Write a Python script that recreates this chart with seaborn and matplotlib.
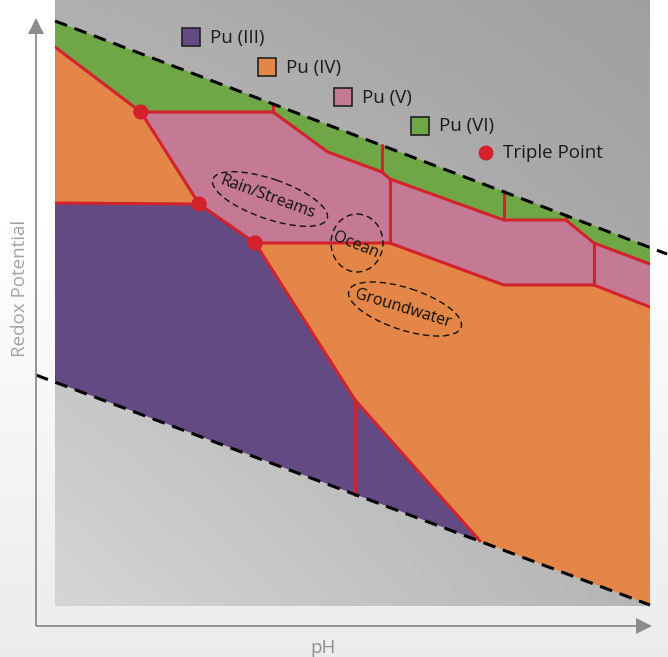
import numpy as np
import pandas as pd
import matplotlib
matplotlib.use("Agg")
import matplotlib.pyplot as plt
import seaborn as sns
from matplotlib.patches import Ellipse, Rectangle, Polygon, Circle

sns.set_theme(style="white")
plt.rcParams['font.family'] = ['Open Sans', 'DejaVu Sans']

# ---------------- data (pH, redox potential in arbitrary units) ----------------
water_upper_ph = [0.0, 14.4]
water_upper_e = [5.85, 3.52]
water_lower_ph = [-0.45, 14.0]
water_lower_e = [2.31, 0.01]

pu6_ph = [0.0, 14.0, 14.0, 12.68, 12.02, 10.56, 7.88, 7.69, 6.42, 5.13, 2.02, 0.0]
pu6_e = [5.85, 3.59, 3.42, 3.63, 3.86, 3.86, 4.27, 4.34, 4.54, 4.94, 4.94, 5.59]
pu4a_ph = [0.0, 2.02, 3.39, 0.0]
pu4a_e = [5.59, 4.94, 4.02, 4.03]
pu5_ph = [2.02, 5.13, 6.42, 7.69, 7.88, 10.56, 12.02, 12.68, 14.0, 14.0, 12.68, 10.56, 7.88, 4.71, 3.39]
pu5_e = [4.94, 4.94, 4.54, 4.34, 4.27, 3.86, 3.86, 3.63, 3.42, 2.99, 3.21, 3.21, 3.63, 3.63, 4.02]
pu3_ph = [0.0, 3.39, 4.71, 7.06, 10.0, 0.0]
pu3_e = [4.03, 4.02, 3.63, 2.06, 0.65, 2.24]
pu4b_ph = [4.71, 7.88, 10.56, 12.68, 14.0, 14.0, 10.0, 7.06]
pu4b_e = [3.63, 3.63, 3.21, 3.21, 2.99, 0.01, 0.65, 2.06]

boundary_ph = [
    [0.0, 2.02, 3.39, 4.71, 7.06, 10.0],
    [0.0, 3.39],
    [2.02, 5.13, 6.42, 7.69, 7.88, 10.56, 12.02, 12.68, 14.0],
    [4.71, 7.88, 10.56, 12.68, 14.0],
    [5.13, 5.13], [7.69, 7.69], [7.88, 7.88], [10.56, 10.56],
    [12.02, 12.02], [12.68, 12.68], [7.06, 7.06],
]
boundary_e = [
    [5.59, 4.94, 4.02, 3.63, 2.06, 0.65],
    [4.03, 4.02],
    [4.94, 4.94, 4.54, 4.34, 4.27, 3.86, 3.86, 3.63, 3.42],
    [3.63, 3.63, 3.21, 3.21, 2.99],
    [4.94, 5.02], [4.34, 4.61], [4.27, 3.63], [3.86, 4.15],
    [3.86, 3.91], [3.63, 3.21], [2.06, 1.115],
]

triple_ph = [2.02, 3.39, 4.71]
triple_e = [4.94, 4.02, 3.63]

legend_labels = ["Pu (III)", "Pu (IV)", "Pu (V)", "Pu (VI)"]
legend_colors = ["#634a82", "#e38647", "#c47994", "#70a746"]
triple_label = "Triple Point"
env_labels = ["Rain/Streams", "Ocean", "Groundwater"]
x_label = "pH"
y_label = "Redox Potential"

RED = "#d2232d"
C3, C4, C5, C6 = legend_colors

# ---------------- figure ----------------
fig = plt.figure(figsize=(6.68, 6.57), dpi=100)

# page background gradient
bg = fig.add_axes([0, 0, 1, 1])
r = np.linspace(0, 1, 300)[:, None]
v = 1 - 0.075 * np.clip((r - 0.35) / 0.65, 0, 1)
grad = np.dstack([v, v, v + 0.004]).clip(0, 1)
grad = np.repeat(grad, 2, axis=1)
bg.imshow(grad, extent=(0, 1, 0, 1), aspect='auto', interpolation='bilinear')
bg.set_xlim(0, 1); bg.set_ylim(0, 1)
bg.axis('off')

# main plotting area
ax = fig.add_axes([55 / 668, 51 / 657, 595 / 668, 606 / 657])
n = 200
gx = np.linspace(0, 1, n)[None, :]
gy = np.linspace(0, 1, n)[:, None]  # 0 top, 1 bottom
tl, tr, bl, br = 0.69, 0.625, 0.84, 0.71
g = tl * (1 - gx) * (1 - gy) + tr * gx * (1 - gy) + bl * (1 - gx) * gy + br * gx * gy
warm = 0.012 * (1 - gx) * gy
img = np.dstack([g + warm * 0.3, g - warm * 0.3, g - warm * 0.3]).clip(0, 1)
ax.imshow(img, extent=(0, 14, 0, 6.06), aspect='auto', zorder=0, interpolation='bilinear')

for xs, ys, c in [(pu6_ph, pu6_e, C6), (pu4a_ph, pu4a_e, C4), (pu5_ph, pu5_e, C5),
                  (pu3_ph, pu3_e, C3), (pu4b_ph, pu4b_e, C4)]:
    ax.fill(xs, ys, color=c, lw=0, zorder=1)

rows = []
for i, (xs, ys) in enumerate(zip(boundary_ph, boundary_e)):
    for k, (x, y) in enumerate(zip(xs, ys)):
        rows.append({"seg": i, "order": k, "pH": x, "E": y})
bdf = pd.DataFrame(rows)
sns.lineplot(data=bdf, x="pH", y="E", units="seg", estimator=None, sort=False,
             color=RED, lw=2.2, ax=ax, zorder=2)

for xs, ys in [(water_upper_ph, water_upper_e), (water_lower_ph, water_lower_e)]:
    ax.plot(xs, ys, color='black', lw=2.2, dashes=(4.2, 2.6), clip_on=False, zorder=3,
            solid_capstyle='butt', dash_capstyle='butt')

sns.scatterplot(x=triple_ph, y=triple_e, s=120, color=RED, edgecolor='none',
                ax=ax, zorder=4, legend=False)

ax.set_xlim(0, 14)
ax.set_ylim(0, 6.06)
ax.axis('off')

# overlay in pixel coordinates for annotations
ov = fig.add_axes([0, 0, 1, 1])
ov.set_xlim(0, 668)
ov.set_ylim(657, 0)
ov.axis('off')
ov.patch.set_alpha(0)

sq_pos = [(182, 28), (258, 58), (334, 88), (411, 117)]
for (sx, sy), lab, col in zip(sq_pos, legend_labels, legend_colors):
    ov.add_patch(Rectangle((sx, sy), 18, 18, facecolor=col, edgecolor='#222222', lw=1.2))
    ov.text(sx + 28, sy + 9.5, lab, fontsize=13.5, color='#1a1a1a', va='center', ha='left')
ov.add_patch(Circle((486, 153), 7.5, facecolor=RED, edgecolor='none'))
ov.text(503, 153, triple_label, fontsize=13.5, color='#1a1a1a', va='center', ha='left')

# environment ellipses
ell_style = dict(fill=False, edgecolor='#111111', lw=1.0, linestyle=(0, (4.5, 2.8)))
ov.add_patch(Ellipse((270, 199), 121, 40, angle=19, **ell_style))
ov.add_patch(Ellipse((357, 243), 52, 58, angle=0, **ell_style))
ov.add_patch(Ellipse((405, 309), 118, 42, angle=18, **ell_style))
ov.text(268, 197, env_labels[0], rotation=-20, fontsize=11.5, color='#111111',
        ha='center', va='center', rotation_mode='anchor')
ov.text(356, 245, env_labels[1], rotation=-22, fontsize=11.5, color='#111111',
        ha='center', va='center', rotation_mode='anchor')
ov.text(403, 309, env_labels[2], rotation=-17, fontsize=11.5, color='#111111',
        ha='center', va='center', rotation_mode='anchor')

# axis arrows
AX = '#8c8c8c'
ov.plot([36, 36], [626, 30], color=AX, lw=1.3, solid_capstyle='butt')
ov.add_patch(Polygon([(36, 18), (28, 34), (44, 34)], closed=True, facecolor=AX, edgecolor='none'))
ov.plot([36, 640], [626, 626], color=AX, lw=1.3, solid_capstyle='butt')
ov.add_patch(Polygon([(652, 626), (636, 618), (636, 634)], closed=True, facecolor=AX, edgecolor='none'))

ov.text(20, 288, y_label, rotation=90, fontsize=13.5, color='#a3a3a3', ha='center', va='center')
ov.text(323, 648, x_label, fontsize=13.5, color='#8f8f8f', ha='center', va='center')

fig.savefig("out.png", dpi=100)
